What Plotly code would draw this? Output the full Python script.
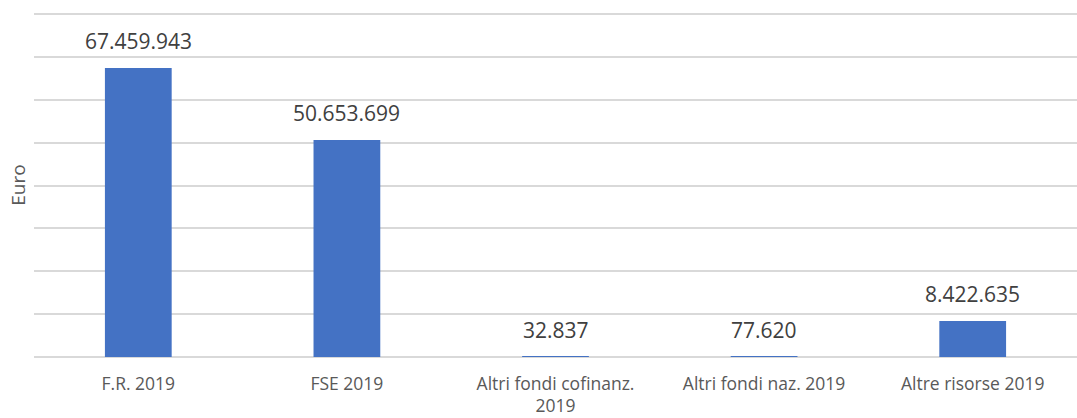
import plotly.graph_objects as go

categories = ["F.R. 2019", "FSE 2019", "Altri fondi cofinanz.<br>2019", "Altri fondi naz. 2019", "Altre risorse 2019"]
values = [67459943, 50653699, 32837, 77620, 8422635]
y_ticks = [0, 10e6, 20e6, 30e6, 40e6, 50e6, 60e6, 70e6, 80e6]

labels = [f"{v:,}".replace(",", ".") for v in values]

fig = go.Figure(go.Bar(
    x=categories, y=values,
    marker=dict(color="#4472C4", line=dict(color="#4472C4", width=0)),
    width=0.32, cliponaxis=False,
))

for c, v, t in zip(categories, values, labels):
    fig.add_annotation(x=c, y=v, text=t, showarrow=False, yanchor="bottom", yshift=11,
                       font=dict(size=21, color="#404040", family="Open Sans"))

fig.update_layout(
    width=1077, height=418,
    margin=dict(l=34, r=0, t=13, b=61),
    paper_bgcolor="white", plot_bgcolor="white",
    font=dict(family="Open Sans", color="#595959"),
    showlegend=False,
    xaxis=dict(tickfont=dict(size=17.5, color="#595959"), showline=False, ticks="",
               ticklabelstandoff=14, automargin=False),
    yaxis=dict(range=[0, 80.3e6], tickvals=y_ticks, showticklabels=False, automargin=False,
               gridcolor="#D9D9D9", gridwidth=1.5, zeroline=True, zerolinecolor="#D9D9D9", zerolinewidth=1.5,
               title=dict(text="Euro", font=dict(size=19, color="#595959"), standoff=2)),
)

fig.write_html("out.html", config={"displayModeBar": False},
               post_script="document.body.style.margin='0';")
